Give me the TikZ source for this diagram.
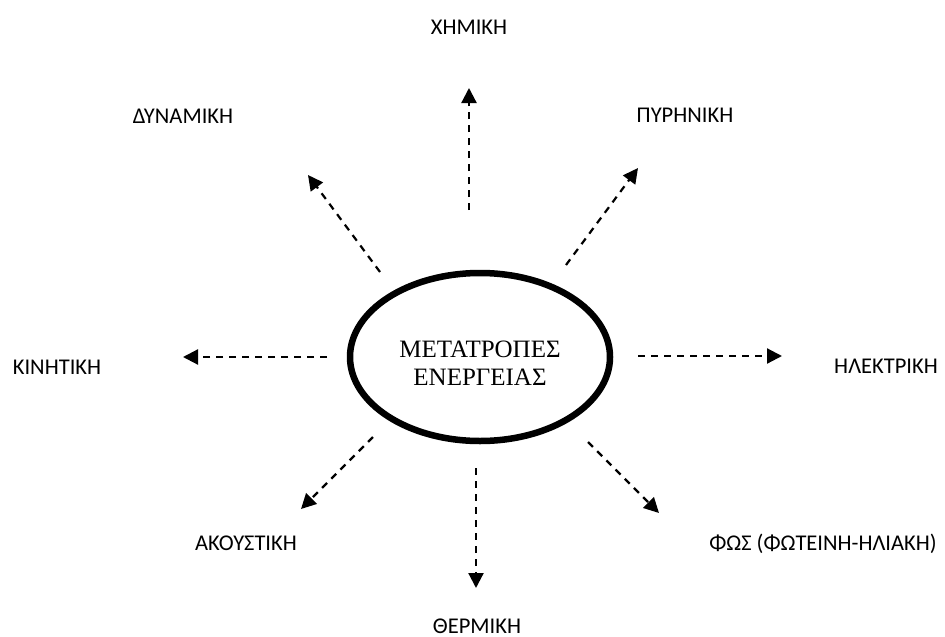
\documentclass[tikz,border=0pt]{standalone}
\usepackage{fontspec}
\setmainfont{Carlito}
\newfontfamily\timesfont{Liberation Serif}
\usetikzlibrary{arrows.meta,shapes.geometric}
\tikzset{
  lbl/.style={inner sep=0pt, text height=14.5pt, text depth=0pt, font=\fontsize{22.5pt}{27pt}\selectfont},
  flow/.style={line width=2.2pt, dash pattern=on 7pt off 6pt, -{Triangle[length=15pt,width=15pt]}},
  hub/.style={ellipse, draw, line width=6.5pt, minimum width=260pt, minimum height=168pt, inner sep=0pt},
  hubtext/.style={inner sep=0pt, align=center, font=\timesfont\fontsize{25pt}{28pt}\selectfont}
}
\begin{document}
\begin{tikzpicture}[x=1pt,y=-1pt]
\useasboundingbox (0,0) rectangle (945,637);
\node[hub] (c) at (480,357) {};
\node[hubtext] (ct) at (480,363) {ΜΕΤΑΤΡΟΠΕΣ\\ΕΝΕΡΓΕΙΑΣ};
\node[lbl] (xim) at (469,27) {ΧΗΜΙΚΗ};
\node[lbl] (dyn) at (183,116) {ΔΥΝΑΜΙΚΗ};
\node[lbl] (pyr) at (685,115) {ΠΥΡΗΝΙΚΗ};
\node[lbl] (kin) at (57,367) {ΚΙΝΗΤΙΚΗ};
\node[lbl] (ilk) at (886,366) {ΗΛΕΚΤΡΙΚΗ};
\node[lbl] (ako) at (246,543) {ΑΚΟΥΣΤΙΚΗ};
\node[lbl] (fos) at (823,543) {ΦΩΣ (ΦΩΤΕΙΝΗ-ΗΛΙΑΚΗ)};
\node[lbl] (ther) at (477,626) {ΘΕΡΜΙΚΗ};
\coordinate (a1s) at (469,210); \coordinate (a1e) at (469,88);
\coordinate (a2s) at (566,265); \coordinate (a2e) at (638,168);
\coordinate (a3s) at (380,272); \coordinate (a3e) at (308,175);
\coordinate (a4s) at (327,357); \coordinate (a4e) at (183,357);
\coordinate (a5s) at (638,356); \coordinate (a5e) at (782,356);
\coordinate (a6s) at (373,437); \coordinate (a6e) at (301,509);
\coordinate (a7s) at (476,468); \coordinate (a7e) at (476,588);
\coordinate (a8s) at (588,442); \coordinate (a8e) at (659,513);
\draw[flow] (a1s) -- (a1e);
\draw[flow] (a2s) -- (a2e);
\draw[flow] (a3s) -- (a3e);
\draw[flow] (a4s) -- (a4e);
\draw[flow] (a5s) -- (a5e);
\draw[flow] (a6s) -- (a6e);
\draw[flow] (a7s) -- (a7e);
\draw[flow] (a8s) -- (a8e);
\end{tikzpicture}
\end{document}
